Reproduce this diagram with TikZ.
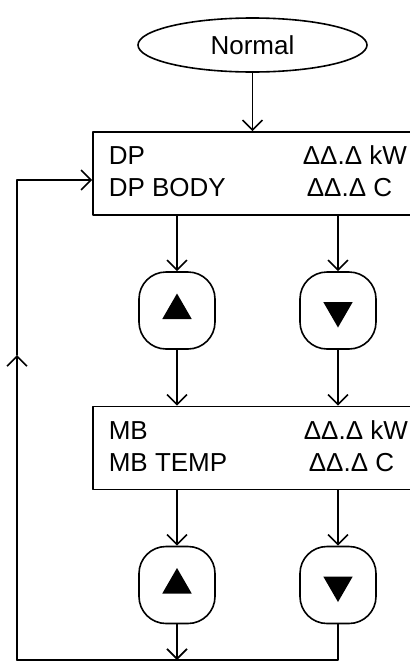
\documentclass[tikz,border=0pt]{standalone}
\usepackage{fontspec}
\setmainfont{Liberation Sans}
\usetikzlibrary{arrows.meta,shapes.geometric}
\begin{document}
\begin{tikzpicture}[
		x=1pt,y=-1pt,line join = round,line cap = round,line width=1.6pt,
		>={Straight Barb[length=10pt,width=20pt]},
		font=\fontsize{26}{30}\selectfont,
		etat/.style={ellipse,draw,minimum width=229pt,minimum height=54pt,inner sep=0pt},
		ecran/.style={rectangle,draw,minimum width=327pt,minimum height=83pt,inner sep=0pt},
		touche/.style={rectangle,draw,rounded corners=27pt,minimum width=76pt,minimum height=77pt,inner sep=0pt},
		haut/.style={regular polygon,regular polygon sides=3,fill=black,inner sep=0pt,minimum size=34pt},
		bas/.style={haut,shape border rotate=180},
		ligne/.style={anchor=base west,inner sep=0pt}]
	\useasboundingbox (0,0) rectangle (410,662);
	\node at (252.5,45) (nodeN) [etat] {Normal};
	% ecran DP
	\node at (256.5,173.5) (nodeDP) [ecran] {};
	\node at (108,164) (dpA) [ligne] {DP};
	\node at (108,196) (dpB) [ligne] {DP BODY};
	\node at (302,164) (dpC) [ligne] {ΔΔ.Δ kW};
	\node at (306,196) (dpD) [ligne] {ΔΔ.Δ C};
	\node at (177,310.5) (nodeU1) [touche] {};
	\node at (338,310.5) (nodeD1) [touche] {};
	\node at (nodeU1) (triU1) [haut] {};
	\node at (nodeD1) (triD1) [bas] {};
	% ecran MB
	\node at (256.5,448) (nodeMB) [ecran] {};
	\node at (108,439) (mbA) [ligne] {MB};
	\node at (108,471) (mbB) [ligne] {MB TEMP};
	\node at (303,439) (mbC) [ligne] {ΔΔ.Δ kW};
	\node at (308,471) (mbD) [ligne] {ΔΔ.Δ C};
	\node at (177,585) (nodeU2) [touche] {};
	\node at (338,585) (nodeD2) [touche] {};
	\node at (nodeU2) (triU2) [haut] {};
	\node at (nodeD2) (triD2) [bas] {};
	% retour
	\coordinate (loopL) at (17,660);
	\coordinate (loopMid) at (17,355);
	\coordinate (loopTop) at (17,180);
	\draw[->] (nodeN.south) -- (nodeN.south |- nodeDP.north);
	\draw[->] (nodeDP.south -| nodeU1) -- (nodeU1);
	\draw[->] (nodeDP.south -| nodeD1) -- (nodeD1);
	\draw[->] (nodeU1) -- (nodeU1 |- nodeMB.north);
	\draw[->] (nodeD1) -- (nodeD1 |- nodeMB.north);
	\draw[->] (nodeMB.south -| nodeU2) -- (nodeU2);
	\draw[->] (nodeMB.south -| nodeD2) -- (nodeD2);
	\draw[->] (nodeU2) -- (nodeU2 |- loopL);
	\draw (nodeD2) |- (loopL);
	\draw[->] (loopL) -- (loopMid);
	\draw[->] (loopMid) -- (loopTop) -- (loopTop -| nodeDP.west);
\end{tikzpicture}
\end{document}
